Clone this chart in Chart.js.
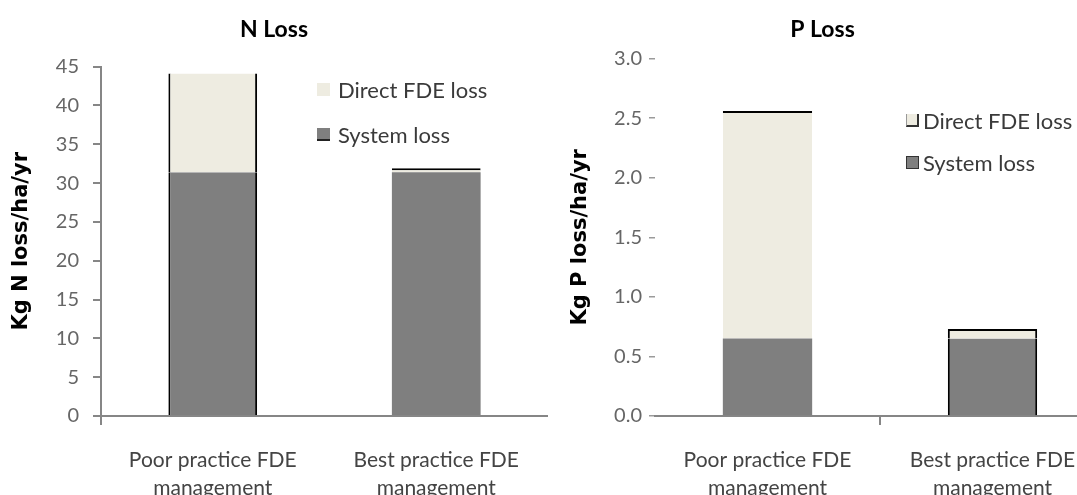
<!DOCTYPE html>
<html>
<head>
<meta charset="utf-8">
<script src="https://cdn.jsdelivr.net/npm/chart.js@4.4.1/dist/chart.umd.min.js"></script>
<style>
  html, body { margin: 0; padding: 0; background: #fff; overflow: hidden; }
  body { width: 1077px; height: 495px; position: relative; }
  canvas { position: absolute; top: 0; }
  #nChart { left: 0; z-index: 1; }
  #pChart { left: 540px; z-index: 2; }
  .legend { position: absolute; z-index: 3; font-family: Lato, sans-serif; font-size: 22px; color: #3a3a3a; }
  .legend div { position: absolute; white-space: nowrap; height: 26px; line-height: 26px; }
  .legend span.box { position: absolute; top: 6px; width: 13px; height: 13px; box-sizing: border-box; }
  .legend span.txt { position: absolute; }
</style>
</head>
<body>
<canvas id="nChart" width="548" height="495"></canvas>
<canvas id="pChart" width="570" height="495"></canvas>
<div class="legend" id="nLegend" style="left:317px; top:77px;"></div>
<div class="legend" id="pLegend" style="left:906px; top:108px;"></div>

<script>
// categories (two-line labels)
const categories = [['Poor practice FDE', 'management'], ['Best practice FDE', 'management']];

// N loss (kg N/ha/yr)
const nSystemLoss = [31.4, 31.4];
const nDirectLoss = [12.7, 0.5];

// P loss (kg P/ha/yr)
const pSystemLoss = [0.65, 0.65];
const pDirectLoss = [1.91, 0.08];

// y axis ticks
const nTicks = [0, 5, 10, 15, 20, 25, 30, 35, 40, 45];
const pTicks = [0, 0.5, 1.0, 1.5, 2.0, 2.5, 3.0];

const seriesNames = ['System loss', 'Direct FDE loss'];
const GREY = '#7f7f7f';
const BEIGE = '#eeece1';
const AXIS = '#868686';

const none = {top: 0, right: 0, bottom: 0, left: 0};

function makeChart(id, cfg) {
    const ctx = document.getElementById(id).getContext('2d');
    return new Chart(ctx, {
        type: 'bar',
        data: {
            labels: categories,
            datasets: [{
                label: seriesNames[0],
                data: cfg.system,
                backgroundColor: GREY,
                borderColor: '#000',
                borderSkipped: false,
                borderWidth: c => cfg.systemBorder[c.dataIndex],
                categoryPercentage: 1,
                barPercentage: 0.397
            }, {
                label: seriesNames[1],
                data: cfg.direct,
                backgroundColor: BEIGE,
                borderColor: '#000',
                borderSkipped: false,
                borderWidth: c => cfg.directBorder[c.dataIndex],
                categoryPercentage: 1,
                barPercentage: 0.397
            }]
        },
        options: {
            responsive: false,
            animation: false,
            layout: {padding: {left: 0, right: cfg.padRight, top: 0, bottom: 0}},
            plugins: {
                legend: {display: false},
                tooltip: {enabled: false},
                title: {
                    display: true,
                    text: cfg.title,
                    color: '#000',
                    font: {family: 'Lato', size: 23, weight: 'bold'},
                    padding: {top: 16, bottom: cfg.titleGap}
                }
            },
            scales: {
                x: {
                    stacked: true,
                    afterFit: s => { s.height = 79; },
                    border: {display: true, color: AXIS, width: 2},
                    grid: {
                        offset: true,
                        drawOnChartArea: false,
                        drawTicks: true,
                        tickLength: 9,
                        lineWidth: 2,
                        color: c => c.index === cfg.xTickAt ? AXIS : 'rgba(0,0,0,0)'
                    },
                    ticks: {
                        color: '#444',
                        padding: 21,
                        maxRotation: 0,
                        font: {family: 'Lato', size: 21, lineHeight: '28px'}
                    }
                },
                y: {
                    stacked: true,
                    min: 0,
                    max: cfg.ticks[cfg.ticks.length - 1],
                    afterFit: s => { s.width = cfg.yWidth; },
                    afterBuildTicks: s => { s.ticks = cfg.ticks.map(v => ({value: v})); },
                    border: {display: cfg.yLine, color: AXIS, width: 2},
                    grid: {
                        drawOnChartArea: false,
                        drawTicks: true,
                        tickLength: cfg.yTickLen,
                        lineWidth: cfg.yLine ? 2 : 1.5,
                        color: cfg.yLine ? AXIS : '#9a9a9a'
                    },
                    ticks: {
                        color: '#666',
                        padding: cfg.yPad,
                        font: {family: 'Lato', size: 20},
                        callback: v => cfg.decimals ? Number(v).toFixed(1) : v
                    },
                    title: {
                        display: true,
                        text: cfg.yTitle,
                        color: '#000',
                        font: {family: 'DejaVu Sans', size: 21, weight: 'bold'},
                        padding: {top: cfg.yTitlePad, bottom: 0}
                    }
                }
            }
        }
    });
}

makeChart('nChart', {
    title: 'N Loss',
    yTitle: 'Kg N loss/ha/yr',
    system: nSystemLoss,
    direct: nDirectLoss,
    ticks: nTicks,
    decimals: false,
    padRight: 0,
    titleGap: 23,
    yWidth: 101,
    yLine: true,
    yTickLen: 8,
    yPad: 14,
    yTitlePad: 9,
    xTickAt: 0,
    systemBorder: [{top: 0, right: 2, bottom: 0, left: 2}, none],
    directBorder: [{top: 0, right: 2, bottom: 0, left: 2}, {top: 2, right: 0, bottom: 0, left: 0}]
});

makeChart('pChart', {
    title: 'P Loss',
    yTitle: 'Kg P loss/ha/yr',
    system: pSystemLoss,
    direct: pDirectLoss,
    ticks: pTicks,
    decimals: true,
    padRight: 5,
    titleGap: 15,
    yWidth: 115,
    yLine: false,
    yTickLen: 6,
    yPad: 7,
    yTitlePad: 28,
    xTickAt: 1,
    systemBorder: [none, {top: 0, right: 2, bottom: 0, left: 2}],
    directBorder: [{top: 2, right: 0, bottom: 0, left: 0}, {top: 2, right: 2, bottom: 0, left: 2}]
});

// legends (Direct first, as in the original)
function buildLegend(id, rowGap, boxStyles, textLeft) {
    const el = document.getElementById(id);
    const fills = [BEIGE, GREY];
    [seriesNames[1], seriesNames[0]].forEach((name, i) => {
        const row = document.createElement('div');
        row.style.top = (i * rowGap) + 'px';
        const box = document.createElement('span');
        box.className = 'box';
        box.style.background = fills[i];
        Object.assign(box.style, boxStyles[i]);
        const txt = document.createElement('span');
        txt.className = 'txt';
        txt.style.left = textLeft + 'px';
        txt.textContent = name;
        row.appendChild(box);
        row.appendChild(txt);
        el.appendChild(row);
    });
}

buildLegend('nLegend', 45, [{}, {borderBottom: '2px solid #222'}], 21);
buildLegend('pLegend', 42, [{borderBottom: '2px solid #333', borderRight: '2px solid #333', borderLeft: '1px solid #999'}, {border: '1px solid #333'}], 17);
</script>
</body>
</html>
